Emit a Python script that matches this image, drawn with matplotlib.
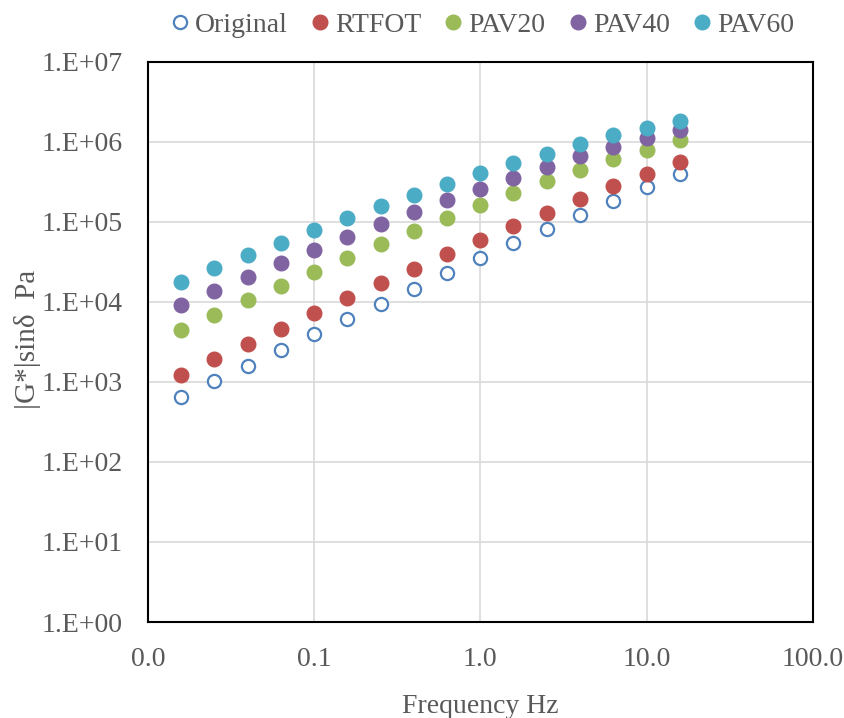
import numpy as np
import matplotlib.pyplot as plt
from matplotlib.ticker import FuncFormatter, FixedLocator, NullLocator

# frequencies (Hz), 5 points per decade
freq = [0.0158, 0.0251, 0.0398, 0.0631, 0.1, 0.158, 0.251, 0.398,
        0.631, 1.0, 1.58, 2.51, 3.98, 6.31, 10.0, 15.8]

original = [644, 1020, 1600, 2510, 3950, 6150, 9550, 14700,
            22800, 35500, 54200, 82700, 124000, 185000, 274000, 403000]
rtfot = [1240, 1920, 2990, 4650, 7290, 11100, 17100, 26100,
         39800, 60200, 90200, 131000, 194000, 282000, 403000, 562000]
pav20 = [4520, 6880, 10500, 16000, 24000, 35500, 52600, 78100,
         112000, 162000, 230000, 325000, 447000, 608000, 803000, 1050000]
pav40 = [9170, 13900, 20500, 30500, 44300, 64900, 93600, 135000,
         188000, 262000, 359000, 487000, 662000, 866000, 1122000, 1429000]
pav60 = [18000, 26400, 38400, 55200, 79400, 112000, 157000, 220000,
         298000, 406000, 547000, 716000, 935000, 1223000, 1496000, 1815000]

series = [("Original", original, "#4F81BD", False),
          ("RTFOT", rtfot, "#C0504D", True),
          ("PAV20", pav20, "#9BBB59", True),
          ("PAV40", pav40, "#8064A2", True),
          ("PAV60", pav60, "#4BACC6", True)]

plt.rcParams['font.family'] = ['Liberation Serif', 'DejaVu Serif']
grey = '#595959'
fs = 20

fig = plt.figure(figsize=(8.45, 7.18), dpi=100)
ax = fig.add_axes([0.175, 0.1337, 0.787, 0.78])

for name, vals, col, filled in series:
    if filled:
        ax.plot(freq, vals, 'o', ms=10.5, color=col, mec=col, label=name)
    else:
        ax.plot(freq, vals, 'o', ms=9.5, mfc='white', mec=col, mew=1.6, label=name)

ax.set_xscale('log')
ax.set_yscale('log')
ax.set_xlim(0.01, 100)
ax.set_ylim(1, 1e7)

ax.xaxis.set_major_locator(FixedLocator([0.01, 0.1, 1, 10, 100]))
ax.xaxis.set_minor_locator(NullLocator())
ax.yaxis.set_major_locator(FixedLocator([10.0**k for k in range(8)]))
ax.yaxis.set_minor_locator(NullLocator())
ax.xaxis.set_major_formatter(FuncFormatter(lambda v, p: "%.1f" % v))
ax.yaxis.set_major_formatter(FuncFormatter(lambda v, p: "1.E+%02d" % round(np.log10(v))))

ax.grid(True, color='#D9D9D9', lw=1.2)
ax.set_axisbelow(True)
for sp in ax.spines.values():
    sp.set_color('black')
    sp.set_linewidth(1.5)
ax.tick_params(length=0, labelsize=fs, colors=grey)
ax.tick_params(axis='y', pad=18)
ax.tick_params(axis='x', pad=18)

ax.set_xlabel("Frequency Hz", fontsize=fs, color=grey, labelpad=16)
ax.set_ylabel("|G*|sinδ  Pa", fontsize=21, color=grey)
ax.yaxis.set_label_coords(-0.16, 0.505)

fig.legend(loc='upper center', bbox_to_anchor=(0.568, 1.018), ncol=5, frameon=False,
           fontsize=fs, handletextpad=0.05, columnspacing=0.65, labelcolor=grey,
           handlelength=1.0)

fig.savefig("out.png", dpi=100)
